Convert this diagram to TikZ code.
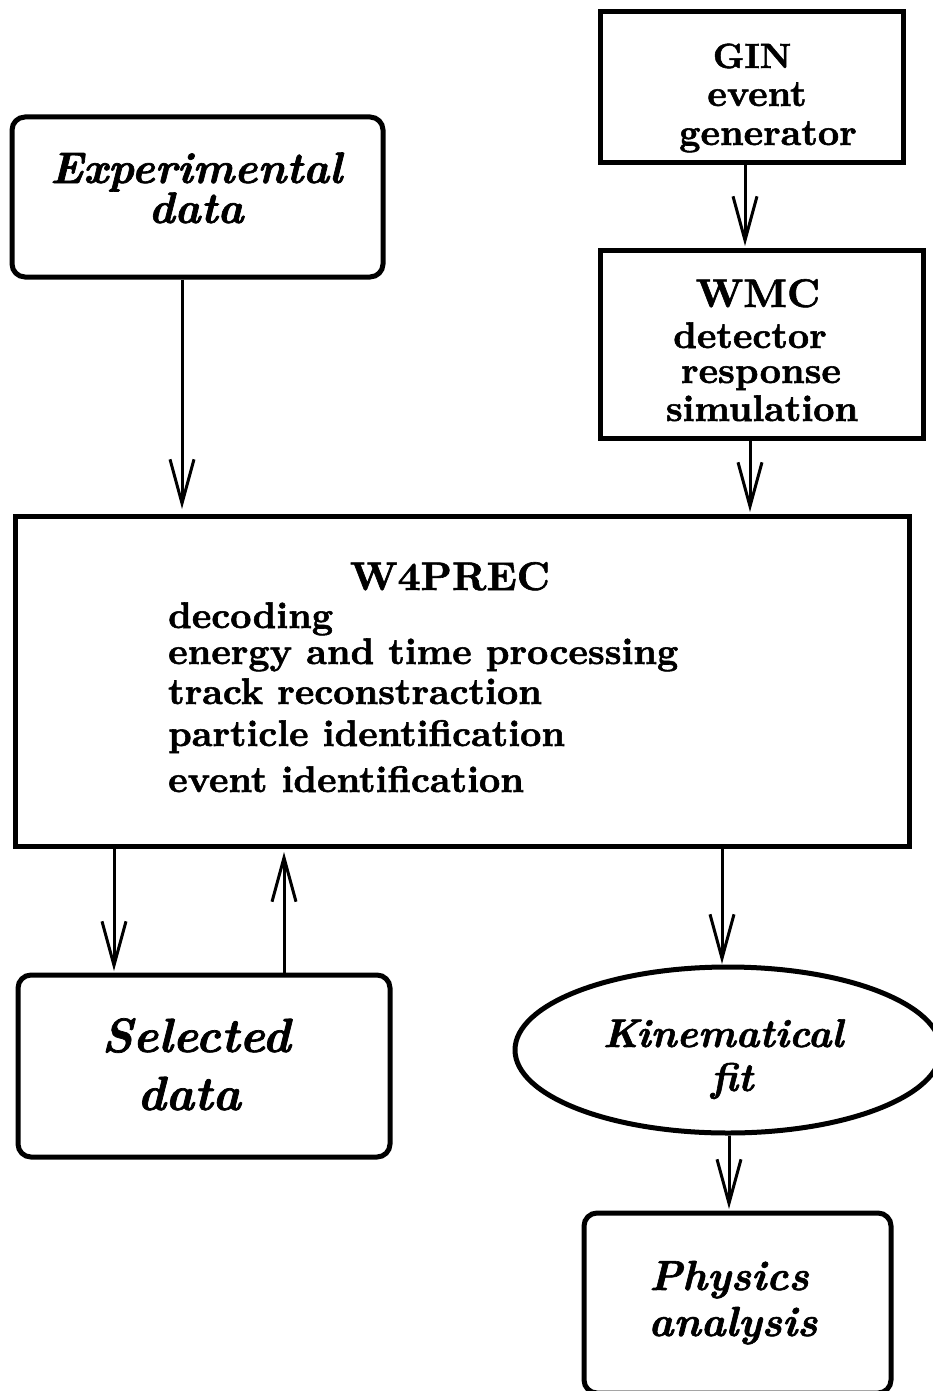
\documentclass[tikz,border=0pt]{standalone}
\usepackage{fontspec}
\newfontfamily\hvup{lmroman10-bold.otf}[FakeBold=1.5]
\newfontfamily\hvit{lmroman10-bolditalic.otf}[FakeBold=1.5]
\usetikzlibrary{arrows.meta,shapes.geometric}
\begin{document}
\begin{tikzpicture}[x=1pt,y=-1pt,
  box/.style={draw,line width=5pt,rectangle,inner sep=0pt},
  rbox/.style={box,rounded corners=13pt},
  oval/.style={draw,line width=5pt,ellipse,inner sep=0pt},
  lab/.style={anchor=base,inner sep=0pt,font=\fontsize{44}{44}\selectfont\hvit},
  up/.style={anchor=base,inner sep=0pt,font=\fontsize{37}{37}\selectfont\hvup},
  upl/.style={anchor=base west,inner sep=0pt,font=\fontsize{37}{37}\selectfont\hvup},
  flow/.style={line width=3pt,-{Straight Barb[length=44pt,width=24pt]}}]
\useasboundingbox (0,0) rectangle (933,1391);
% boxes
\node[rbox,minimum width=371pt,minimum height=160pt] (exp) at (197.5,197) {};
\node[box,minimum width=303pt,minimum height=151pt] (gin) at (751.5,87.5) {};
\node[box,minimum width=323pt,minimum height=188pt] (wmc) at (761.5,344) {};
\node[box,minimum width=894pt,minimum height=330pt] (w4) at (462,681) {};
\node[rbox,minimum width=372pt,minimum height=182pt] (sel) at (204,1066) {};
\node[oval,minimum width=426pt,minimum height=166pt] (kin) at (728,1050) {};
\node[rbox,minimum width=307pt,minimum height=180pt] (phys) at (737.5,1303) {};
% texts
\node[lab] (exp1) at (196,183) {Experimental};
\node[lab] (exp2) at (196,223) {data};
\node[up,font=\fontsize{35}{35}\selectfont\hvup] (gin1) at (752,68) {GIN};
\node[up] (gin2) at (757,106) {event};
\node[up] (gin3) at (768,145) {generator};
\node[up,font=\fontsize{40}{40}\selectfont\hvup] (wmc1) at (758,307) {WMC};
\node[up] (wmc2) at (750,348) {detector};
\node[up] (wmc3) at (761,383) {response};
\node[up] (wmc4) at (762,421) {simulation};
\node[up,font=\fontsize{40}{40}\selectfont\hvup] (w4t) at (450,590) {W4PREC};
\node[upl] (w4a) at (168,628) {decoding};
\node[upl] (w4b) at (168,664) {energy and time processing};
\node[upl] (w4c) at (168,704) {track reconstraction};
\node[upl] (w4d) at (168,746) {particle identification};
\node[upl] (w4e) at (168,792) {event identification};
\node[lab,font=\fontsize{48}{48}\selectfont\hvit] (sel1) at (196,1052) {Selected};
\node[lab,font=\fontsize{48}{48}\selectfont\hvit] (sel2) at (189,1110) {data};
\node[lab,font=\fontsize{40}{40}\selectfont\hvit] (kin1) at (723,1047) {Kinematical};
\node[lab,font=\fontsize{40}{40}\selectfont\hvit] (kin2) at (732,1091) {fit};
\node[lab,font=\fontsize{42}{42}\selectfont\hvit] (phys1) at (729,1290) {Physics};
\node[lab,font=\fontsize{42}{42}\selectfont\hvit] (phys2) at (733,1336) {analysis};
% connector end points
\coordinate (e1) at (exp.south -| 182,0);
\coordinate (e2) at (182,509);
\draw[flow] (e1) -- (e2);
\coordinate (g1) at (gin.south -| 745,0);
\coordinate (g2) at (745,246);
\draw[flow] (g1) -- (g2);
\coordinate (m1) at (wmc.south -| 750,0);
\coordinate (m2) at (750,512);
\draw[flow] (m1) -- (m2);
\coordinate (d1) at (w4.south -| 114,0);
\coordinate (d2) at (114,971);
\draw[flow] (d1) -- (d2);
\coordinate (u1) at (sel.north -| 284,0);
\coordinate (u2) at (284,852);
\draw[flow] (u1) -- (u2);
\coordinate (k1) at (w4.south -| 722,0);
\coordinate (k2) at (722,964);
\draw[flow] (k1) -- (k2);
\coordinate (p1) at (kin.south -| 729,0);
\coordinate (p2) at (729,1209);
\draw[flow] (p1) -- (p2);
\end{tikzpicture}
\end{document}
